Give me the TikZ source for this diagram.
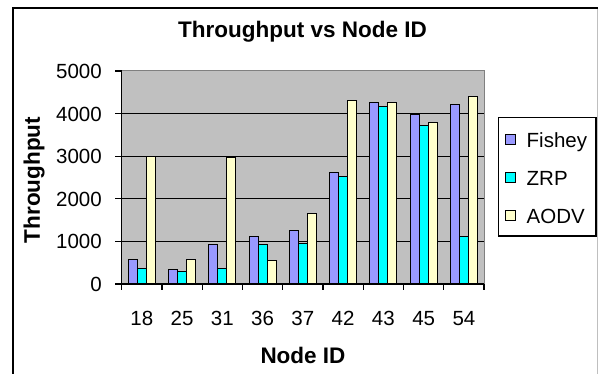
\documentclass[tikz,border=0pt]{standalone}
\usepackage{fontspec}
\setmainfont{Liberation Sans}
\begin{document}
\begin{tikzpicture}[x=1pt,y=-1pt,
  ticklabel/.style={font=\fontsize{20.5}{24}\selectfont, inner sep=0pt},
  axistitle/.style={font=\fontsize{22.5}{27}\selectfont\bfseries, inner sep=0pt},
  barbox/.style={draw=black, line width=1pt},
  gridline/.style={draw=black, line width=1.3pt},
  axisline/.style={draw=black, line width=1.3pt},
  keybox/.style={draw=black, line width=1pt, minimum size=10pt, inner sep=0pt},
]
\definecolor{fishey}{HTML}{9999FF}
\definecolor{zrp}{HTML}{00FFFF}
\definecolor{aodv}{HTML}{FFFFCC}
\definecolor{plotbg}{HTML}{C0C0C0}
\definecolor{plotedge}{HTML}{808080}
\useasboundingbox (0,0) rectangle (598,374);
\fill[white] (0,0) rectangle (598,374);

% chart frame
\draw[line width=2pt] (12.5,376) -- (12.5,8.5) -- (600,8.5);
\draw[black!25, line width=0.8pt] (597,9.5) -- (597,376);

% plot area
\fill[plotbg] (121.7,71) rectangle (484,284);
\foreach \k in {1,...,4}
  \draw[gridline] (121.7,{284-42.6*\k}) -- (484,{284-42.6*\k});

% bars: Fishey / ZRP / AODV per node
\foreach \i/\a/\b/\c in {0/580/375/3000, 1/345/290/580, 2/920/375/2965,
    3/1110/920/540, 4/1260/950/1650, 5/2615/2520/4310,
    6/4270/4160/4270, 7/3975/3730/3790, 8/4220/1110/4410} {
  \pgfmathsetmacro\xa{121.7+\i*40.26+6.71}
  \draw[barbox, fill=fishey] (\xa,284) rectangle ({\xa+8.95},{284-0.0426*\a});
  \draw[barbox, fill=zrp] ({\xa+8.95},284) rectangle ({\xa+17.9},{284-0.0426*\b});
  \draw[barbox, fill=aodv] ({\xa+17.9},284) rectangle ({\xa+26.85},{284-0.0426*\c});
}

% plot border and axes
\draw[plotedge, line width=1pt] (121.7,71) -- (484,71) -- (484,284);
\draw[axisline] (121.7,71) -- (121.7,284) -- (484,284);

% value axis
\foreach \k in {0,...,5} {
  \draw[axisline] (115,{284-42.6*\k}) -- (121.7,{284-42.6*\k});
  \pgfmathtruncatemacro\val{1000*\k}
  \node[ticklabel, anchor=base east] (v\k) at (102,{284-42.6*\k+7.5}) {\val};
}

% category axis
\foreach \i in {0,...,9}
  \draw[axisline] ({121.7+40.26*\i},284) -- ({121.7+40.26*\i},290);
\foreach \lab [count=\i from 0] in {18,25,31,36,37,42,43,45,54}
  \node[ticklabel, anchor=base] (c\i) at ({121.7+40.26*(\i+0.5)},325.5) {\lab};

% titles
\node[axistitle, anchor=base] (title) at (302.5,37.5) {Throughput vs Node ID};
\node[axistitle, anchor=base] (xlabel) at (303,363.3) {Node ID};
\node[axistitle, rotate=90] (ylabel) at (34,180) {Throughput};

% legend
\draw[line width=1.3pt] (498.3,117.3) rectangle (596,236);
\foreach \nm/\col/\yy in {Fishey/fishey/140, ZRP/zrp/178, AODV/aodv/216} {
  \node[keybox, fill=\col] (k\nm) at (510,\yy) {};
  \node[ticklabel, anchor=base west] (t\nm) at (526.5,{\yy+7.3}) {\nm};
}
\end{tikzpicture}
\end{document}
